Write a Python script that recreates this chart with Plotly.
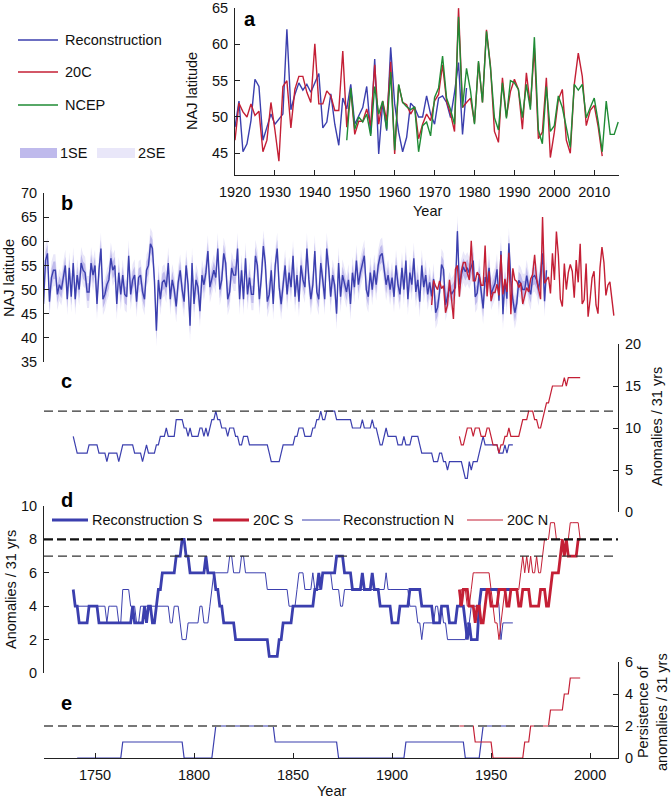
import plotly.graph_objects as go

# ---------------- data: NAJ latitude (panels a, b) ----------------
recon_start = 1724
recon_early = [
    47.0, 56.0, 57.5, 47.5, 52.5, 54.0, 54.0, 49.0, 51.0, 50.0,   # 1724
    52.5, 55.0, 48.0, 54.5, 48.5, 55.5, 48.0, 53.0, 50.0, 55.5,   # 1734
    54.0, 53.5, 49.5, 49.5, 55.5, 53.0, 55.0, 47.0, 54.0, 58.5,   # 1744
    48.0, 49.0, 51.0, 52.0, 56.5, 54.0, 55.0, 47.0, 53.5, 49.0,   # 1754
    53.0, 49.0, 48.5, 57.0, 49.0, 52.0, 53.0, 47.5, 52.5, 53.0,   # 1764
    49.5, 48.0, 54.0, 55.0, 59.5, 58.5, 52.0, 41.5, 52.0, 48.0,   # 1774
    51.5, 52.0, 50.5, 55.5, 48.0, 52.0, 50.0, 46.5, 51.5, 54.0,   # 1784
    50.0, 47.5, 55.0, 51.0, 42.5, 55.5, 47.0, 52.0, 50.5, 45.5,   # 1794
    53.0, 51.0, 53.5, 58.0, 50.5, 52.0, 54.0, 52.5, 58.5, 50.0,   # 1804
    52.0, 57.5, 55.5, 48.0, 49.5, 54.5, 53.0, 53.0, 58.5, 48.0,   # 1814
    54.0, 48.0, 56.5, 49.0, 52.5, 49.0, 49.0, 57.0, 55.0, 48.0,   # 1824
    52.5, 59.0, 55.5, 47.5, 49.0, 54.0, 47.0, 55.0, 58.5, 50.5,   # 1834
    47.0, 51.0, 55.0, 49.0, 53.5, 50.5, 57.0, 48.5, 53.0, 47.5,   # 1844
    55.0, 52.0, 50.5, 58.5, 52.0, 48.0, 51.0, 58.0, 49.5, 48.0,   # 1854
    55.5, 52.0, 48.0, 58.5, 54.5, 48.5, 53.0, 51.0, 45.0, 55.5,   # 1864
    48.5, 53.0, 51.0, 49.5, 52.0, 47.0, 53.5, 50.5, 56.0, 51.0,   # 1874
    53.5, 55.5, 57.0, 50.0, 48.5, 53.5, 50.0, 54.0, 51.0, 55.0,   # 1884
    57.0, 57.5, 54.5, 51.0, 53.0, 50.0, 52.5, 48.5, 55.0, 51.0,   # 1894
    49.0, 54.5, 50.0, 56.0, 48.0, 53.5, 51.0, 56.5, 49.5, 52.0,   # 1904
    47.5, 55.0, 50.5, 53.0, 49.0, 51.5,                           # 1914
]
recon_late = [
    48.6, 52.2, 45.2, 46.3, 49.5, 55.2, 54.2, 46.8, 48.6, 50.4,   # 1920
    49.0, 49.7, 50.4, 62.1, 51.0, 53.1, 54.7, 53.7, 54.5, 53.4,   # 1930
    54.7, 56.0, 48.5, 49.3, 53.2, 49.0, 46.1, 52.6, 51.1, 54.5,   # 1940
    49.0, 50.2, 51.3, 54.2, 47.7, 58.0, 44.9, 52.0, 48.1, 59.6,   # 1950
    51.8, 47.9, 45.2, 47.2, 51.9, 51.3, 50.0, 50.0, 52.9, 50.4,   # 1960
    49.0, 52.6, 52.9, 52.0, 49.9, 53.4, 57.5, 47.6, 54.0,         # 1970
]
c20_start = 1920
c20_lat = [
    46.8, 51.9, 50.7, 50.0, 51.8, 50.2, 50.8, 45.2, 46.8, 52.0,   # 1920
    48.2, 43.9, 54.2, 55.0, 48.5, 53.8, 55.6, 55.6, 53.4, 52.0,   # 1930
    60.1, 51.8, 51.8, 53.6, 52.9, 50.9, 50.9, 59.1, 48.6, 53.8,   # 1940
    47.6, 49.4, 49.4, 51.1, 48.8, 57.2, 49.0, 52.2, 49.5, 57.6,   # 1950
    44.9, 54.4, 52.0, 51.7, 50.4, 51.4, 47.0, 49.0, 50.4, 49.5,   # 1960
    52.2, 53.1, 57.2, 52.2, 50.4, 48.0, 65.0, 51.3, 52.0, 52.6,   # 1970
    49.2, 57.5, 52.0, 62.0, 57.0, 48.0, 46.5, 55.4, 50.0, 53.5,   # 1980
    55.2, 53.8, 48.3, 56.1, 51.5, 59.5, 47.0, 47.9, 55.4, 44.4,   # 1990
    47.9, 52.4, 53.8, 46.8, 45.0, 54.5, 58.8, 55.6, 48.8, 50.9,   # 2000
    51.6, 48.6, 44.6,                                             # 2010
]
ncep_start = 1948
ncep_lat = [
    46.8, 54.0, 48.3, 50.0, 49.3, 50.4, 47.4, 54.2, 50.4, 52.2,   # 1948
    48.3, 56.2, 45.4, 54.5, 52.0, 51.4, 51.0, 51.4, 45.2, 48.8,   # 1958
    49.3, 47.4, 52.7, 54.0, 58.4, 52.6, 51.0, 49.0, 63.8, 51.3,   # 1968
    56.7, 53.6, 49.0, 57.7, 52.0, 61.8, 56.8, 49.9, 48.2, 54.7,   # 1978
    49.8, 55.0, 54.7, 53.8, 49.9, 54.5, 51.0, 61.0, 48.2, 46.3,   # 1988
    54.2, 48.0, 48.8, 52.9, 51.3, 48.3, 45.8, 54.5, 53.7, 54.5,   # 1998
    49.9, 51.3, 52.6, 49.3, 45.2, 52.2, 47.6, 47.6, 49.3,         # 2008
]
se1 = 1.8   # half-width of 1SE band (deg)
se2 = 3.3   # half-width of 2SE band (deg)

# ---------------- data: anomaly counts (panel c), change points ----------------
c_recon_years = [1739, 1740, 1741, 1747, 1752, 1756, 1757, 1762, 1763, 1764, 1770, 1774, 1775,
                 1776, 1777, 1781, 1783, 1786, 1787, 1791, 1795, 1797, 1798, 1799, 1803, 1805,
                 1806, 1807, 1808, 1809, 1811, 1812, 1814, 1817, 1818, 1821, 1823, 1825, 1828,
                 1838, 1839, 1844, 1845, 1851, 1853, 1856, 1860, 1862, 1864, 1865, 1867, 1872,
                 1880, 1885, 1886, 1890, 1891, 1893, 1894, 1896, 1897, 1898, 1903, 1906, 1907,
                 1910, 1914, 1915, 1921, 1924, 1926, 1928, 1929, 1936, 1937, 1939, 1940, 1941,
                 1944, 1945, 1946, 1947, 1954, 1957, 1958, 1959]
c_recon_vals = [9, 8, 7, 8, 7, 6, 7, 6, 7, 8, 7, 6, 7,
                8, 7, 8, 9, 10, 9, 11, 10, 9, 10, 9, 10, 9,
                10, 9, 10, 11, 12, 11, 10, 9, 10, 9, 8, 9, 8,
                7, 6, 7, 8, 9, 10, 9, 10, 11, 12, 11, 12, 11,
                10, 11, 10, 11, 10, 9, 8, 9, 10, 9, 8, 9, 8,
                9, 8, 7, 6, 7, 6, 5, 6, 5, 4, 6, 5, 6,
                7, 8, 9, 8, 7, 8, 7, 8]
c_recon_end = 1961
c_20c_years = [1934, 1935, 1937, 1938, 1941, 1942, 1945, 1948, 1950, 1951, 1954, 1955, 1957,
               1959, 1960, 1965, 1966, 1969, 1972, 1974, 1976, 1977, 1978, 1980, 1981, 1987,
               1988, 1989]
c_20c_vals = [9, 8, 9, 10, 9, 10, 9, 10, 9, 8, 7, 8, 9,
              10, 9, 10, 11, 12, 11, 10, 11, 12, 13, 14, 15, 16,
              15, 16]
c_20c_end = 1995
c_threshold = 12

# ---------------- data: anomaly counts S / N (panel d) ----------------
d_recon_s_years = [1739, 1740, 1742, 1747, 1752, 1769, 1770, 1775, 1776, 1777, 1779, 1781, 1782,
                   1784, 1791, 1794, 1796, 1798, 1806, 1807, 1811, 1813, 1815, 1821, 1838, 1843,
                   1845, 1850, 1861, 1863, 1864, 1865, 1872, 1876, 1880, 1885, 1886, 1890, 1891,
                   1894, 1900, 1904, 1909, 1915, 1921, 1925, 1929, 1933, 1937, 1938, 1939, 1940,
                   1944, 1945]
d_recon_s_vals = [5, 4, 3, 4, 3, 4, 3, 4, 3, 4, 3, 4, 5,
                  6, 7, 8, 7, 6, 7, 6, 5, 4, 3, 2, 1, 2,
                  3, 4, 5, 6, 5, 6, 7, 6, 5, 6, 5, 6, 5,
                  4, 3, 4, 5, 4, 3, 4, 3, 4, 3, 2, 3, 2,
                  4, 5]
d_recon_n_years = [1740, 1756, 1757, 1762, 1764, 1768, 1771, 1773, 1788, 1790, 1793, 1794, 1797,
                   1803, 1805, 1808, 1809, 1810, 1818, 1820, 1824, 1826, 1837, 1848, 1852, 1853,
                   1856, 1860, 1861, 1865, 1870, 1874, 1876, 1897, 1898, 1909, 1913, 1915, 1916,
                   1922, 1924, 1925, 1926, 1928, 1938, 1940, 1945, 1954, 1955, 1956]
d_recon_n_vals = [4, 3, 4, 3, 5, 4, 3, 4, 3, 4, 3, 2, 3,
                  4, 3, 4, 5, 6, 7, 6, 7, 6, 5, 4, 5, 6,
                  5, 6, 5, 6, 5, 4, 5, 6, 5, 4, 3, 2, 3,
                  4, 3, 4, 3, 2, 3, 4, 5, 4, 2, 3]
d_recon_end = 1961
d_20c_s_years = [1934, 1935, 1936, 1939, 1942, 1943, 1945, 1947, 1948, 1950, 1954, 1958, 1960,
                 1964, 1966, 1970, 1975, 1978, 1980, 1981, 1985, 1986, 1987, 1988, 1989, 1994]
d_20c_s_vals = [5, 4, 5, 4, 3, 4, 3, 4, 5, 4, 5, 4, 5,
                4, 5, 4, 5, 4, 5, 6, 7, 8, 7, 8, 7, 8]
d_20c_n_years = [1934, 1935, 1938, 1940, 1941, 1950, 1951, 1952, 1954, 1955, 1956, 1957, 1965,
                 1966, 1967, 1968, 1969, 1970, 1971, 1973, 1974, 1976, 1977, 1980, 1983, 1987,
                 1988, 1990, 1995]
d_20c_n_vals = [4, 5, 4, 5, 6, 5, 4, 3, 2, 3, 4, 5, 6,
                7, 6, 7, 6, 7, 6, 7, 6, 7, 8, 9, 8, 7,
                8, 9, 8]
d_20c_end = 1995
d_threshold_s = 8
d_threshold_n = 7

# ---------------- data: persistence (panel e) ----------------
e_recon_years = [1741, 1764, 1795, 1810, 1811, 1841, 1873, 1907, 1937, 1945, 1946]
e_recon_vals = [0, 1, 0, 1, 2, 1, 0, 1, 0, 1, 2]
e_recon_end = 1961
e_20c_years = [1934, 1942, 1951, 1967, 1970, 1980, 1987, 1990]
e_20c_vals = [2, 1, 0, 1, 2, 3, 4, 5]
e_20c_end = 1995
e_threshold = 2


def steps(change_years, change_vals, end_year):
    years = list(range(change_years[0], end_year + 1))
    vals, j = [], 0
    for y in years:
        while j + 1 < len(change_years) and change_years[j + 1] <= y:
            j += 1
        vals.append(change_vals[j])
    return years, vals


recon = recon_early + recon_late
recon_years = list(range(recon_start, recon_start + len(recon)))
recon_a_years = list(range(1920, 1920 + len(recon_late)))
c20_years = list(range(c20_start, c20_start + len(c20_lat)))
ncep_years = list(range(ncep_start, ncep_start + len(ncep_lat)))

BLUE = "#3b3fae"
RED = "#c41f35"
GREEN = "#1f8b35"
SE1C = "#bfbaec"
SE2C = "#e9e7f9"
FONT = "Liberation Sans, Arial, sans-serif"
FS = 14.5
W, H = 671, 800


def px(x):
    return x / W


def py(y):
    return 1 - y / H


fig = go.Figure()

# panel a
fig.add_trace(go.Scatter(x=recon_a_years, y=recon_late, mode="lines", line=dict(color=BLUE, width=1.4),
                         xaxis="x", yaxis="y"))
fig.add_trace(go.Scatter(x=c20_years, y=c20_lat, mode="lines", line=dict(color=RED, width=1.4),
                         xaxis="x", yaxis="y"))
fig.add_trace(go.Scatter(x=ncep_years, y=ncep_lat, mode="lines", line=dict(color=GREEN, width=1.4),
                         xaxis="x", yaxis="y"))

# panel b: SE bands + lines
fig.add_trace(go.Scatter(x=recon_years, y=[v + se2 for v in recon], mode="lines",
                         line=dict(width=0, color=SE2C), xaxis="x2", yaxis="y2"))
fig.add_trace(go.Scatter(x=recon_years, y=[v - se2 for v in recon], mode="lines", fill="tonexty",
                         fillcolor=SE2C, line=dict(width=0, color=SE2C), xaxis="x2", yaxis="y2"))
fig.add_trace(go.Scatter(x=recon_years, y=[v + se1 for v in recon], mode="lines",
                         line=dict(width=0, color=SE1C), xaxis="x2", yaxis="y2"))
fig.add_trace(go.Scatter(x=recon_years, y=[v - se1 for v in recon], mode="lines", fill="tonexty",
                         fillcolor=SE1C, line=dict(width=0, color=SE1C), xaxis="x2", yaxis="y2"))
fig.add_trace(go.Scatter(x=recon_years, y=recon, mode="lines", line=dict(color=BLUE, width=1.4),
                         xaxis="x2", yaxis="y2"))
fig.add_trace(go.Scatter(x=c20_years, y=c20_lat, mode="lines", line=dict(color=RED, width=1.4),
                         xaxis="x2", yaxis="y2"))

# panel c
xs, ys = steps(c_recon_years, c_recon_vals, c_recon_end)
fig.add_trace(go.Scatter(x=xs, y=ys, mode="lines", line=dict(color=BLUE, width=1.2), xaxis="x3", yaxis="y3"))
xs, ys = steps(c_20c_years, c_20c_vals, c_20c_end)
fig.add_trace(go.Scatter(x=xs, y=ys, mode="lines", line=dict(color=RED, width=1.2), xaxis="x3", yaxis="y3"))

# panel d
xs, ys = steps(d_recon_n_years, d_recon_n_vals, d_recon_end)
fig.add_trace(go.Scatter(x=xs, y=ys, mode="lines", line=dict(color=BLUE, width=1.0), xaxis="x4", yaxis="y4"))
xs, ys = steps(d_20c_n_years, d_20c_n_vals, d_20c_end)
fig.add_trace(go.Scatter(x=xs, y=ys, mode="lines", line=dict(color=RED, width=1.0), xaxis="x4", yaxis="y4"))
xs, ys = steps(d_recon_s_years, d_recon_s_vals, d_recon_end)
fig.add_trace(go.Scatter(x=xs, y=ys, mode="lines", line=dict(color=BLUE, width=2.8), xaxis="x4", yaxis="y4"))
xs, ys = steps(d_20c_s_years, d_20c_s_vals, d_20c_end)
fig.add_trace(go.Scatter(x=xs, y=ys, mode="lines", line=dict(color=RED, width=2.8), xaxis="x4", yaxis="y4"))

# panel e
xs, ys = steps(e_recon_years, e_recon_vals, e_recon_end)
fig.add_trace(go.Scatter(x=xs, y=ys, mode="lines", line=dict(color=BLUE, width=1.2), xaxis="x5", yaxis="y5"))
xs, ys = steps(e_20c_years, e_20c_vals, e_20c_end)
fig.add_trace(go.Scatter(x=xs, y=ys, mode="lines", line=dict(color=RED, width=1.2), xaxis="x5", yaxis="y5"))

tickfont = dict(family=FONT, size=FS, color="#111")
axis_common = dict(showline=True, linecolor="#222", linewidth=1, ticks="inside", ticklen=5,
                   tickcolor="#222", showgrid=False, zeroline=False, tickfont=tickfont,
                   automargin=False, fixedrange=True, ticklabeloverflow="allow")
long_range = [1724.24, 2014.1]
long_dom = [px(44), px(618)]

fig.update_layout(
    width=W, height=H, margin=dict(l=0, r=0, t=0, b=0),
    paper_bgcolor="white", plot_bgcolor="rgba(0,0,0,0)", showlegend=False,
    font=dict(family=FONT, size=FS, color="#111"),
    xaxis=dict(domain=[px(235), px(619)], range=[1920, 2016.2], anchor="y",
               tickvals=list(range(1920, 2011, 10)), ticklabelstandoff=4, **axis_common),
    yaxis=dict(domain=[py(175), py(8)], range=[42, 65.02], anchor="x",
               tickvals=[45, 50, 55, 60, 65], ticklabelstandoff=3, **axis_common),
    xaxis2=dict(domain=long_dom, range=long_range, anchor="y2", visible=False),
    yaxis2=dict(domain=[py(362), py(193)], range=[35, 70], anchor="x2",
                tickvals=[35, 40, 45, 50, 55, 60, 65, 70], ticklabelstandoff=3, **axis_common),
    xaxis3=dict(domain=long_dom, range=long_range, anchor="y3", visible=False),
    yaxis3=dict(domain=[py(512), py(344)], range=[0, 20], anchor="x3", side="right",
                tickvals=[0, 5, 10, 15, 20], ticklabelstandoff=3, **axis_common),
    xaxis4=dict(domain=long_dom, range=long_range, anchor="y4", visible=False),
    yaxis4=dict(domain=[py(673), py(506)], range=[0, 10], anchor="x4",
                tickvals=[0, 2, 4, 6, 8, 10], ticklabelstandoff=3, **axis_common),
    xaxis5=dict(domain=long_dom, range=long_range, anchor="y5",
                tickvals=[1750, 1800, 1850, 1900, 1950, 2000], ticklabelstandoff=4, **axis_common),
    yaxis5=dict(domain=[py(758), py(662)], range=[0, 6], anchor="x5", side="right",
                tickvals=[0, 2, 4, 6], ticklabelstandoff=3, **axis_common),
)

# threshold lines
fig.add_shape(type="line", xref="x3 domain", yref="y3", x0=0, x1=1, y0=c_threshold, y1=c_threshold,
              line=dict(color="#333", width=1.2, dash="9px,5px"))
fig.add_shape(type="line", xref="x4 domain", yref="y4", x0=0, x1=1, y0=d_threshold_s, y1=d_threshold_s,
              line=dict(color="#111", width=2.4, dash="9px,4px"))
fig.add_shape(type="line", xref="x4 domain", yref="y4", x0=0, x1=1, y0=d_threshold_n, y1=d_threshold_n,
              line=dict(color="#333", width=1.2, dash="9px,5px"))
fig.add_shape(type="line", xref="x5 domain", yref="y5", x0=0, x1=1, y0=e_threshold, y1=e_threshold,
              line=dict(color="#777", width=2.0, dash="9px,5px"))

# panel a legend
leg_a = [("Reconstruction", BLUE, 40), ("20C", RED, 72), ("NCEP", GREEN, 105)]
for name, col, yy in leg_a:
    fig.add_shape(type="line", xref="paper", yref="paper", x0=px(18), x1=px(58), y0=py(yy), y1=py(yy),
                  line=dict(color=col, width=1.5))
    fig.add_annotation(xref="paper", yref="paper", x=px(63), y=py(yy), text=name, showarrow=False,
                       xanchor="left", yanchor="middle", font=dict(size=FS))
for name, col, x0, x1, xt in [("1SE", SE1C, 20, 57, 58), ("2SE", SE2C, 97, 135, 136)]:
    fig.add_shape(type="rect", xref="paper", yref="paper", x0=px(x0), x1=px(x1), y0=py(158), y1=py(148),
                  line=dict(width=0), fillcolor=col)
    fig.add_annotation(xref="paper", yref="paper", x=px(xt), y=py(153), text=name, showarrow=False,
                       xanchor="left", yanchor="middle", font=dict(size=FS))

# panel d legend
leg_d = [("Reconstruction S", BLUE, 2.8, 52, 88, 90), ("20C S", RED, 2.8, 213, 249, 251),
         ("Reconstruction N", BLUE, 1.0, 302, 340, 341), ("20C N", RED, 1.0, 467, 503, 505)]
for name, col, lw, x0, x1, xt in leg_d:
    fig.add_shape(type="line", xref="paper", yref="paper", x0=px(x0), x1=px(x1), y0=py(520), y1=py(520),
                  line=dict(color=col, width=lw))
    fig.add_annotation(xref="paper", yref="paper", x=px(xt), y=py(520), text=name, showarrow=False,
                       xanchor="left", yanchor="middle", font=dict(size=FS))

# panel letters
for letter, xx, yy in [("a", 250, 19), ("b", 67, 203), ("c", 66, 381), ("d", 67, 500), ("e", 66, 703)]:
    fig.add_annotation(xref="paper", yref="paper", x=px(xx), y=py(yy), text="<b>%s</b>" % letter,
                       showarrow=False, xanchor="center", yanchor="middle", font=dict(size=20, color="#000"))

# axis titles
titles = [
    ("Year", 427, 211, 0),
    ("Year", 331, 791, 0),
    ("NAJ latitude", 192, 91, -90),
    ("NAJ latitude", 9, 278, -90),
    ("Anomalies / 31 yrs", 11, 590, -90),
    ("Anomalies / 31 yrs", 657, 427, -90),
    ("Persistence of<br>anomalies / 31 yrs", 652, 712, -90),
]
for text, xx, yy, ang in titles:
    fig.add_annotation(xref="paper", yref="paper", x=px(xx), y=py(yy), text=text, showarrow=False,
                       xanchor="center", yanchor="middle", textangle=ang, font=dict(size=FS))

# the page body has a default 8px margin; remove it so the figure fills the window
fig.write_html("out.html", config={"displayModeBar": False},
               post_script="document.body.style.margin='0';")
